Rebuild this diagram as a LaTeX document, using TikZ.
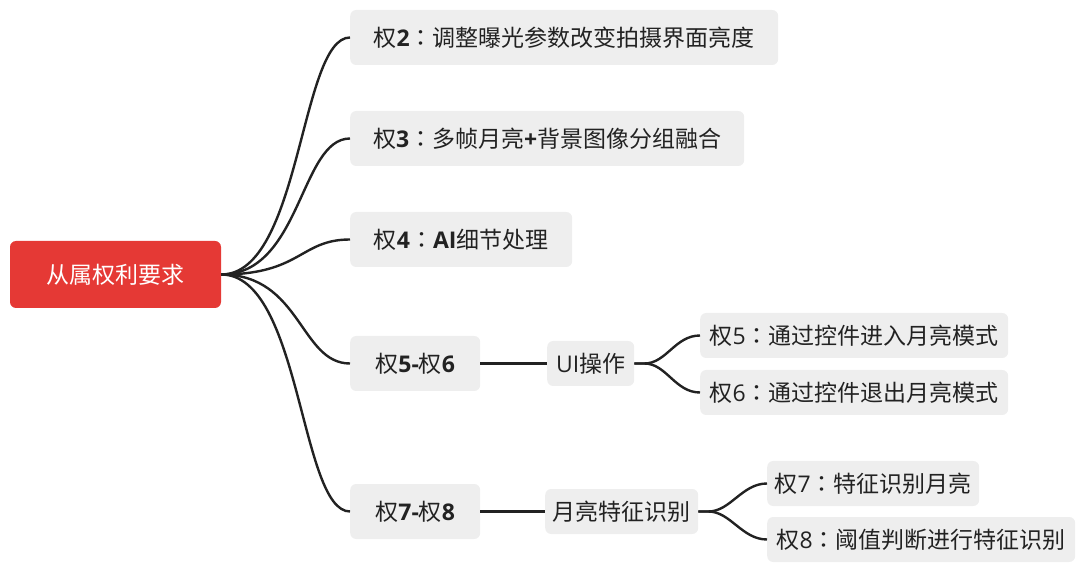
\documentclass[tikz,border=0pt]{standalone}
\usepackage{fontspec}
\setmainfont{Noto Sans CJK SC}
\newfontfamily\latinfont{Open Sans}
\newfontfamily\tcfont{Noto Sans CJK TC}
\usetikzlibrary{positioning,calc}
\definecolor{rootRed}{HTML}{E53935}
\definecolor{cardGray}{HTML}{EEEEEE}
\definecolor{ink}{HTML}{222222}
\newcommand{\numb}[1]{{\latinfont\bfseries #1}}
\newcommand{\numr}[1]{{\latinfont #1}}
\newcommand{\fcolon}{{\tcfont ：}}

\begin{document}
\begin{tikzpicture}[x=1pt, y=-1pt,
    card/.style={rounded corners=6pt, fill=cardGray, text=ink, inner xsep=3pt, font=\fontsize{23}{27}\selectfont},
    rootbox/.style={rounded corners=6pt, fill=rootRed, text=white, minimum width=211pt, minimum height=67pt, font=\fontsize{23}{27}\selectfont},
    topicbox/.style={card, anchor=west, minimum height=55pt},
    subbox/.style={card, anchor=west, minimum height=45pt},
    branch/.style={line width=2.4pt, ink}]
        \useasboundingbox (0,0) rectangle (1080,569);
        \node[rootbox] (root) at (115.5,274.5) {从属权利要求};
        \node[topicbox, minimum width=428pt] (t2) at (350,37.5) {权\numb{2}\fcolon 调整曝光参数改变拍摄界面亮度};
        \node[topicbox, minimum width=394pt] (t3) at (350,138.5) {权\numb{3}\fcolon 多帧月亮\numb{+}背景图像分组融合};
        \node[topicbox, minimum width=222pt] (t4) at (350,239.5) {权\numb{4}\fcolon\numb{AI}细节处理};
        \node[topicbox, minimum width=130pt] (t56) at (350,363.5) {权\numb{5-}权\numb{6}};
        \node[topicbox, minimum width=130pt] (t78) at (350,511.5) {权\numb{7-}权\numb{8}};
        \node[subbox, minimum width=87pt] (ui) at (547,363.5) {\numr{UI}操作};
        \node[subbox, minimum width=153pt] (moon) at (545,511.5) {月亮特征识别};
        \node[subbox, minimum width=308pt] (l5) at (700,335.5) {权\numr{5}\fcolon 通过控件进入月亮模式};
        \node[subbox, minimum width=308pt] (l6) at (700,392.5) {权\numr{6}\fcolon 通过控件退出月亮模式};
        \node[subbox, minimum width=212pt] (l7) at (767,483.5) {权\numr{7}\fcolon 特征识别月亮};
        \node[subbox, minimum width=308pt] (l8) at (767,539.5) {权\numr{8}\fcolon 阈值判断进行特征识别};
        \foreach \t in {t2,t3,t4,t56,t78}
            \draw[branch] (root.east) .. controls +(80,0) and +(-50,0) .. (\t.west);
        \draw[branch] (t56.east) -- (ui.west);
        \draw[branch] (t78.east) -- (moon.west);
        \foreach \l in {l5,l6}
            \draw[branch] (ui.east) -- ++(10,0) .. controls +(22,0) and +(-25,0) .. (\l.west);
        \foreach \l in {l7,l8}
            \draw[branch] (moon.east) -- ++(10,0) .. controls +(22,0) and +(-25,0) .. (\l.west);
      \end{tikzpicture}
\end{document}
